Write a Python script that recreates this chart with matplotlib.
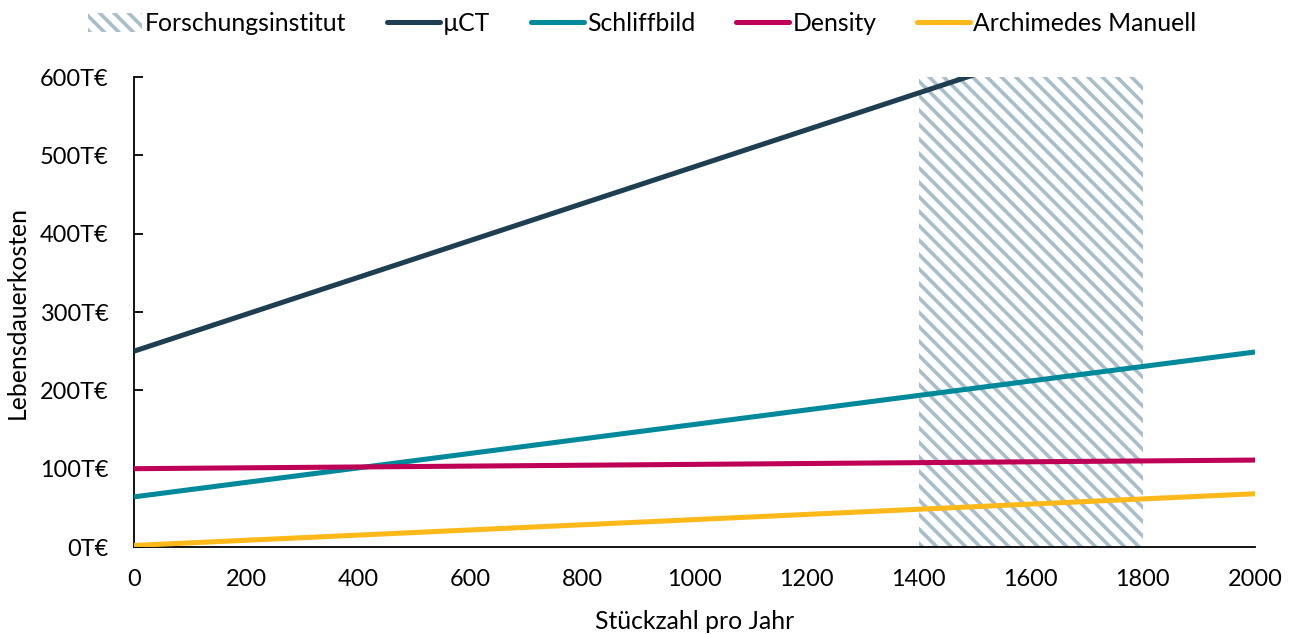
import matplotlib
matplotlib.use('Agg')
import matplotlib.pyplot as plt
from matplotlib.patches import Patch
from matplotlib.lines import Line2D

# Stückzahl pro Jahr (Endpunkte der linearen Kostenverläufe)
stueckzahl = [0, 2000]
# Lebensdauerkosten in T€
kosten_muct = [250, 721]
kosten_schliffbild = [64, 249]
kosten_density = [100, 111]
kosten_archimedes = [2, 68]

forschung_von = 1400
forschung_bis = 1800

x_ticks = list(range(0, 2001, 200))
y_ticks = list(range(0, 601, 100))

serien = [
    ('µCT', kosten_muct, '#1E3F51'),
    ('Schliffbild', kosten_schliffbild, '#00899B'),
    ('Density', kosten_density, '#BE0057'),
    ('Archimedes Manuell', kosten_archimedes, '#FDB81A'),
]
hatch_farbe = '#A8BECB'
schraffur = '\\\\\\'

plt.rcParams['font.family'] = ['Lato', 'DejaVu Sans']
plt.rcParams['hatch.linewidth'] = 2.0

dpi = 130
fig = plt.figure(figsize=(1298 / dpi, 634 / dpi), dpi=dpi)
ax = fig.add_axes([0.1032, 0.1372, 0.8637, 0.7413])

ax.axvspan(forschung_von, forschung_bis, facecolor='white', edgecolor=hatch_farbe,
           hatch=schraffur, linewidth=0, zorder=1)

lw = 2.8
for name, werte, farbe in serien:
    ax.plot(stueckzahl, werte, color=farbe, lw=lw, solid_capstyle='butt', zorder=3)

ax.set_xlim(0, 2000)
ax.set_ylim(0, 600)
ax.set_xticks(x_ticks)
ax.set_yticks(y_ticks)
ax.set_yticklabels([f'{v}T€' for v in y_ticks])

ax.tick_params(axis='x', length=0, pad=12, labelsize=13)
ax.tick_params(axis='y', direction='in', length=5, width=1, pad=14, labelsize=13)

for s in ['top', 'right']:
    ax.spines[s].set_visible(False)
for s in ['left', 'bottom']:
    ax.spines[s].set_linewidth(1.0)
    ax.spines[s].set_color('black')

ax.set_xlabel('Stückzahl pro Jahr', fontsize=13.7, labelpad=11)
ax.set_ylabel('Lebensdauerkosten', fontsize=13.7, labelpad=6)

handles = [Patch(facecolor='white', edgecolor=hatch_farbe, hatch=schraffur, linewidth=0,
                 label='Forschungsinstitut')]
for name, werte, farbe in serien:
    handles.append(Line2D([], [], color=farbe, lw=lw, solid_capstyle='round', label=name))

fig.legend(handles=handles, loc='center', bbox_to_anchor=(0.495, 0.963), ncol=5,
           frameon=False, fontsize=13.7, handlelength=2.15, handletextpad=0.12,
           columnspacing=1.65, handleheight=0.8)

fig.savefig('out.png', dpi=dpi)
